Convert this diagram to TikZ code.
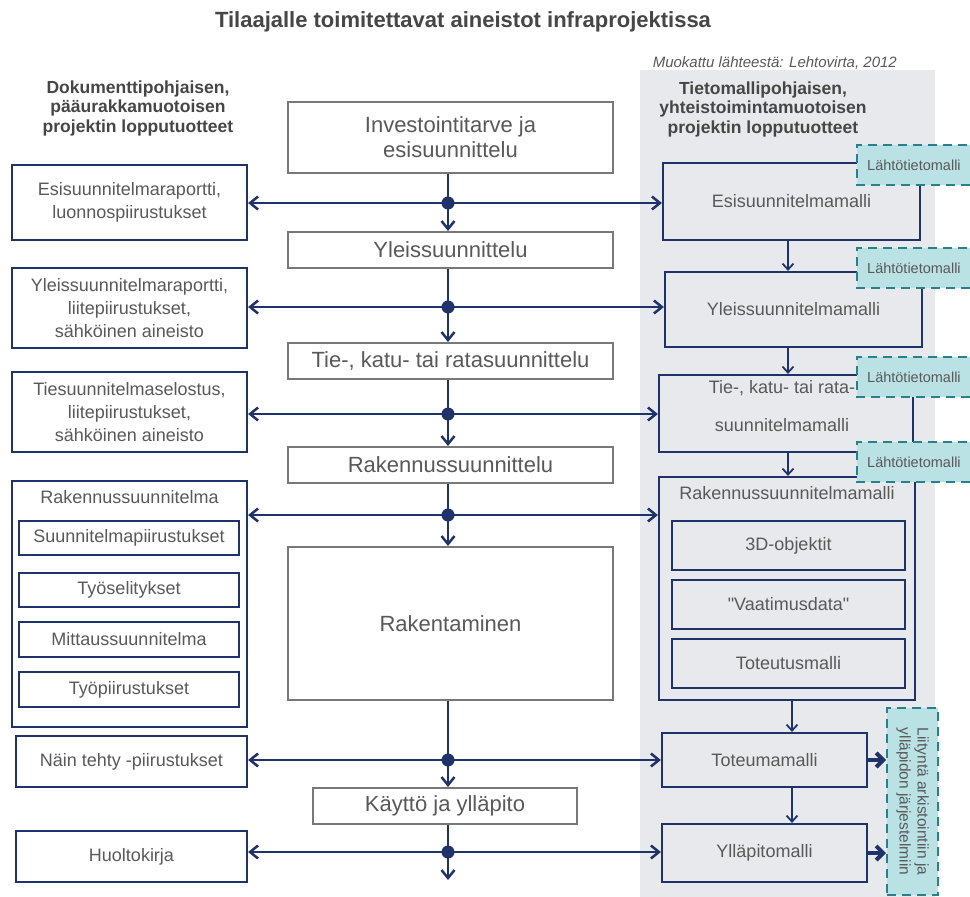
\documentclass[tikz,border=0pt]{standalone}
\usepackage{fontspec}
\setmainfont{Liberation Sans}
\newfontfamily\quotefont{Liberation Sans}
\usetikzlibrary{arrows.meta}
\definecolor{navy}{RGB}{31,50,105}
\definecolor{boxgray}{RGB}{120,120,120}
\definecolor{txtgray}{RGB}{89,89,89}
\definecolor{headgray}{RGB}{70,70,70}
\definecolor{panelgray}{RGB}{232,233,236}
\definecolor{tealfill}{RGB}{186,225,228}
\definecolor{tealline}{RGB}{40,128,138}

\begin{document}
\begin{tikzpicture}[x=1pt,y=-1pt,
			phase/.style={draw=boxgray,line width=2pt,fill=white,text=txtgray,
				align=center,inner sep=0pt,font=\fontsize{22}{25}\selectfont},
			doc/.style={draw=navy,line width=2.2pt,fill=white,text=txtgray,
				align=center,inner sep=0pt,font=\fontsize{18}{23}\selectfont},
			model/.style={draw=navy,line width=2.2pt,fill=panelgray,text=txtgray,
				align=center,inner sep=0pt,font=\fontsize{18}{23}\selectfont},
			plain/.style={text=txtgray,align=center,inner sep=0pt,font=\fontsize{18}{23}\selectfont},
			tealdash/.style={draw=tealline,dash pattern=on 9pt off 6pt,line width=2pt},
			input/.style={fill=tealfill,text=txtgray,align=left,inner xsep=10pt,inner ysep=0pt,
				text width=120pt,minimum height=40pt,font=\fontsize{14.5}{17}\selectfont},
			head/.style={text=headgray,align=center,inner sep=0pt,
				font=\bfseries\fontsize{17.5}{19.5}\selectfont},
			hub/.style={circle,fill=navy,inner sep=0pt,minimum size=13pt},
			flow/.style={draw=navy,line width=2.5pt,-{Straight Barb[length=8pt,width=13pt]}},
			mflow/.style={draw=navy,line width=1.8pt,-{Straight Barb[length=6pt,width=11pt]}},
			xflow/.style={draw=navy,line width=4pt,-{Straight Barb[length=7pt,width=14pt]}}]
			
			\path[use as bounding box] (0,0) rectangle (970,897);
			\clip (0,0) rectangle (970,897);
			\fill[white] (0,0) rectangle (970,897);
			\fill[panelgray] (640,70) rectangle (935,897);
			
			% otsikot
			\node[text=headgray,font=\bfseries\fontsize{22}{26}\selectfont] (T) at (463,22)
				{Tilaajalle toimitettavat aineistot infraprojektissa};
			\node[text=txtgray,anchor=east,inner sep=0pt,font=\itshape\fontsize{15}{18}\selectfont] (S) at (897,63)
				{Muokattu lähteestä: Lehtovirta, 2012};
			\node[head] (HL) at (138,108) {Dokumenttipohjaisen,\\pääurakkamuotoisen\\projektin lopputuotteet};
			\node[head] (HR) at (763,109) {Tietomallipohjaisen,\\yhteistoimintamuotoisen\\projektin lopputuotteet};
			
			% vaiheet
			\node[phase,minimum width=325,minimum height=71] (P1) at (450.5,137.5) {Investointitarve ja\\esisuunnittelu};
			\node[phase,minimum width=325,minimum height=36] (P2) at (450.5,250) {Yleissuunnittelu};
			\node[phase,minimum width=325,minimum height=36] (P3) at (450.5,361) {Tie-, katu- tai ratasuunnittelu};
			\node[phase,minimum width=325,minimum height=36] (P4) at (450.5,465) {Rakennussuunnittelu};
			\node[phase,minimum width=325,minimum height=153] (P5) at (450.5,623.5) {Rakentaminen};
			\node[phase,minimum width=264,minimum height=36] (P6) at (445,806) {Käyttö ja ylläpito};
			
			% dokumentit
			\node[doc,minimum width=235,minimum height=75] (D1) at (129.5,202.5) {Esisuunnitelmaraportti,\\luonnospiirustukset};
			\node[doc,minimum width=235,minimum height=80] (D2) at (129.5,308) {Yleissuunnitelmaraportti,\\liitepiirustukset,\\sähköinen aineisto};
			\node[doc,minimum width=235,minimum height=80] (D3) at (129.5,412) {Tiesuunnitelmaselostus,\\liitepiirustukset,\\sähköinen aineisto};
			\node[doc,minimum width=235,minimum height=246] (D4) at (129.5,604) {};
			\node[plain] (D4t) at (129.5,497) {Rakennussuunnitelma};
			\node[doc,line width=2pt,minimum width=220,minimum height=34] (S1) at (129,538) {Suunnitelmapiirustukset};
			\node[doc,line width=2pt,minimum width=220,minimum height=34] (S2) at (129,590) {Työselitykset};
			\node[doc,line width=2pt,minimum width=220,minimum height=35] (S3) at (129,639.5) {Mittaussuunnitelma};
			\node[doc,line width=2pt,minimum width=220,minimum height=35] (S4) at (129,689.5) {Työpiirustukset};
			\node[doc,minimum width=231,minimum height=51] (D5) at (131.5,761.5) {Näin tehty -piirustukset};
			\node[doc,minimum width=231,minimum height=51] (D6) at (131.5,856.5) {Huoltokirja};
			
			% mallit
			\node[model,minimum width=257,minimum height=77] (M1) at (791.5,201.5) {Esisuunnitelmamalli};
			\node[model,minimum width=257,minimum height=75] (M2) at (793.5,309.5) {Yleissuunnitelmamalli};
			\node[model,minimum width=254,minimum height=77] (M3) at (786,413.5) {};
			\node[model,minimum width=256,minimum height=223] (M4) at (787,588.5) {};
			\node[plain] (M4t) at (787,493) {Rakennussuunnitelmamalli};
			\node[model,minimum width=233,minimum height=49] (O1) at (788.5,545.5) {3D-objektit};
			\node[model,minimum width=233,minimum height=49] (O2) at (788.5,604.5) {{\quotefont"}Vaatimusdata{\quotefont"}};
			\node[model,minimum width=233,minimum height=49] (O3) at (788.5,663.5) {Toteutusmalli};
			\node[model,minimum width=205,minimum height=54] (M5) at (764.5,760) {Toteumamalli};
			\node[model,minimum width=205,minimum height=58] (M6) at (764.5,853) {Ylläpitomalli};
			
			% lähtötiedot
			\node[input,anchor=west] (L1) at (857,165) {Lähtötietomalli};
			\node[input,anchor=west] (L2) at (857,268) {Lähtötietomalli};
			\node[input,anchor=west] (L3) at (857,377) {Lähtötietomalli};
			\node[input,anchor=west] (L4) at (857,462) {Lähtötietomalli};
			\draw[tealdash] (L1.north east) -- (L1.north west) -- (L1.south west) -- (L1.south east);
			\draw[tealdash] (L2.north east) -- (L2.north west) -- (L2.south west) -- (L2.south east);
			\draw[tealdash] (L3.north east) -- (L3.north west) -- (L3.south west) -- (L3.south east);
			\draw[tealdash] (L4.north east) -- (L4.north west) -- (L4.south west) -- (L4.south east);
			\node[plain,font=\fontsize{18}{38}\selectfont] (M3t) at (782,406) {Tie-, katu- tai rata-\\suunnitelmamalli};
			\node[tealdash,fill=tealfill,inner sep=0pt,minimum width=51,minimum height=187] (LA) at (912.5,801.5) {};
			\node[plain,rotate=-90,font=\fontsize{15.5}{18}\selectfont] (LAt) at (LA) {Liityntä arkistointiin ja\\ylläpidon järjestelmiin};
			
			\coordinate (H1) at (448,203);
			\coordinate (H2) at (448,307);
			\coordinate (H3) at (448,414);
			\coordinate (H4) at (448,515);
			\coordinate (H5) at (448,760);
			\coordinate (H6) at (448,852);
			\coordinate (E) at (448,880);
			\coordinate (J) at (788,0);
			\coordinate (K) at (792,0);
			
			\path[every edge/.style=flow]
			(H1 |- P1.south) edge (H1 |- P2.north)
			(H2 |- P2.south) edge (H2 |- P3.north)
			(H3 |- P3.south) edge (H3 |- P4.north)
			(H4 |- P4.south) edge (H4 |- P5.north)
			(H5 |- P5.south) edge (H5 |- P6.north)
			(H6 |- P6.south) edge (E)
			(H1) edge (D1.east |- H1)
			(H1) edge (M1.west |- H1)
			(H2) edge (D2.east |- H2)
			(H2) edge (M2.west |- H2)
			(H3) edge (D3.east |- H3)
			(H3) edge (M3.west |- H3)
			(H4) edge (D4.east |- H4)
			(H4) edge (M4.west |- H4)
			(H5) edge (D5.east |- H5)
			(H5) edge (M5.west |- H5)
			(H6) edge (D6.east |- H6)
			(H6) edge (M6.west |- H6);
			
			\path[every edge/.style=mflow]
			(J |- M1.south) edge (J |- M2.north)
			(J |- M2.south) edge (J |- M3.north)
			(J |- M3.south) edge (J |- M4.north)
			(K |- M4.south) edge (K |- M5.north)
			(K |- M5.south) edge (K |- M6.north);
			
			\path[every edge/.style=xflow]
			(M5) edge (LA.west |- M5)
			(M6) edge (LA.west |- M6);
			
			\path (H1) node[hub] {} (H2) node[hub] {} (H3) node[hub] {}
			(H4) node[hub] {} (H5) node[hub] {} (H6) node[hub] {};
		\end{tikzpicture}
\end{document}
